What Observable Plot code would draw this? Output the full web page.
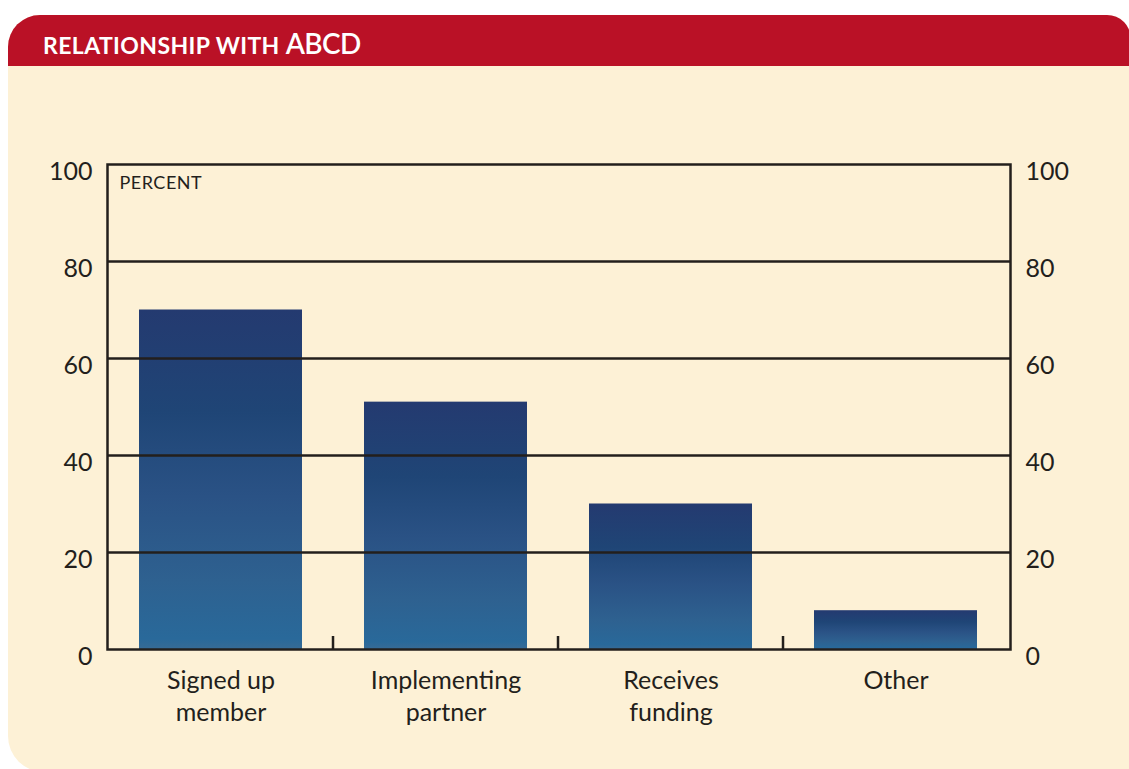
<!DOCTYPE html>
<html>
<head>
<meta charset="utf-8">
<script src="https://cdn.jsdelivr.net/npm/d3@7"></script>
<script src="https://cdn.jsdelivr.net/npm/@observablehq/plot@0.6"></script>
<style>
  html, body { margin: 0; padding: 0; }
  body { width: 1129px; height: 769px; overflow: hidden; position: relative; background: #ffffff; font-family: Lato, "Open Sans", sans-serif; }
  #panel { position: absolute; left: 8px; top: 15px; width: 1123px; height: 757px; background: #FDF1D6; border-radius: 32px 24px 0 36px; overflow: hidden; }
  #header { position: absolute; left: 0; top: 0; width: 100%; height: 51px; background: #BA1126; }
  #title { position: absolute; left: 43px; top: 29px; line-height: 28px; color: #ffffff; font-weight: 700; white-space: nowrap; }
  #title .sc { font-size: 23px; letter-spacing: 0.4px; }
  #title .big { font-size: 28px; font-weight: 600; letter-spacing: -0.6px; }
  #chart { position: absolute; left: 0; top: 66px; }
</style>
</head>
<body>
<div id="panel"><div id="header"></div></div>
<div id="title"><span class="sc">RELATIONSHIP WITH </span><span class="big">ABCD</span></div>
<div id="chart"></div>
<script>
const categories = ["Signed up member", "Implementing partner", "Receives funding", "Other"];
const categoryLabels = ["Signed up\nmember", "Implementing\npartner", "Receives\nfunding", "Other"];
const values = [70, 51, 30, 8];
const yTicks = [0, 20, 40, 60, 80, 100];
const gridValues = [20, 40, 60, 80];
const unitLabel = "PERCENT";

const data = categories.map((c, i) => ({category: c, label: categoryLabels[i], value: values[i]}));

const W = 1129, H = 703, mL = 107, mR = 119, mT = 98, mB = 120;
const padIn = 0.274, padOut = 0.135;
const step = (W - mL - mR) / (categories.length - padIn + 2 * padOut);
const ink = "#231f1c";

const plot = Plot.plot({
  width: W, height: H,
  marginLeft: mL, marginRight: mR, marginTop: mT, marginBottom: mB,
  style: {background: "transparent", fontFamily: "Lato, 'Open Sans', sans-serif", fontSize: "25px", color: ink},
  x: {domain: categories, paddingInner: padIn, paddingOuter: padOut, axis: null},
  y: {domain: [0, 100], axis: null},
  marks: [
    Plot.barY(data, {x: "category", y: "value", fill: "#2a5486"}),
    Plot.ruleY(gridValues, {stroke: ink, strokeWidth: 2.5}),
    Plot.frame({stroke: ink, strokeWidth: 2.5}),
    Plot.ruleX(categories.slice(1), {x: d => d, y1: 0, y2: 0, insetTop: -13, dx: -step / 2, stroke: ink, strokeWidth: 2.5}),
    Plot.axisY({ticks: yTicks, anchor: "left", label: null, tickSize: 0, tickPadding: 15, fontSize: 25, dy: 7}),
    Plot.axisY({ticks: yTicks, anchor: "right", label: null, tickSize: 0, tickPadding: 15, fontSize: 25, dy: 7}),
    Plot.text([unitLabel], {frameAnchor: "top-left", text: d => d, dx: 12, dy: 12, lineAnchor: "top", textAnchor: "start", fontSize: 18, fill: ink}),
    Plot.text(data, {x: "category", y: 0, text: "label", lineAnchor: "top", dy: 17, lineHeight: 1.28, fontSize: 25, fill: ink})
  ]
});

const svg = d3.select(plot);
const defs = svg.insert("defs", ":first-child");
const grad = defs.append("linearGradient").attr("id", "barGrad").attr("x1", 0).attr("x2", 0).attr("y1", 0).attr("y2", 1);
[[0, "#243a70"], [0.3, "#1f4576"], [0.55, "#2a5285"], [0.8, "#2e6190"], [0.97, "#29699a"], [1, "#376b96"]]
  .forEach(([o, c]) => grad.append("stop").attr("offset", o).attr("stop-color", c));
svg.selectAll('g[aria-label="bar"]').attr("fill", "url(#barGrad)");
svg.selectAll('g[aria-label="bar"] rect').attr("fill", "url(#barGrad)");
svg.selectAll('g[aria-label="text"] text').filter(function() { return this.textContent === unitLabel; }).style("letter-spacing", "0.5px");

document.getElementById("chart").appendChild(plot);
</script>
</body>
</html>
